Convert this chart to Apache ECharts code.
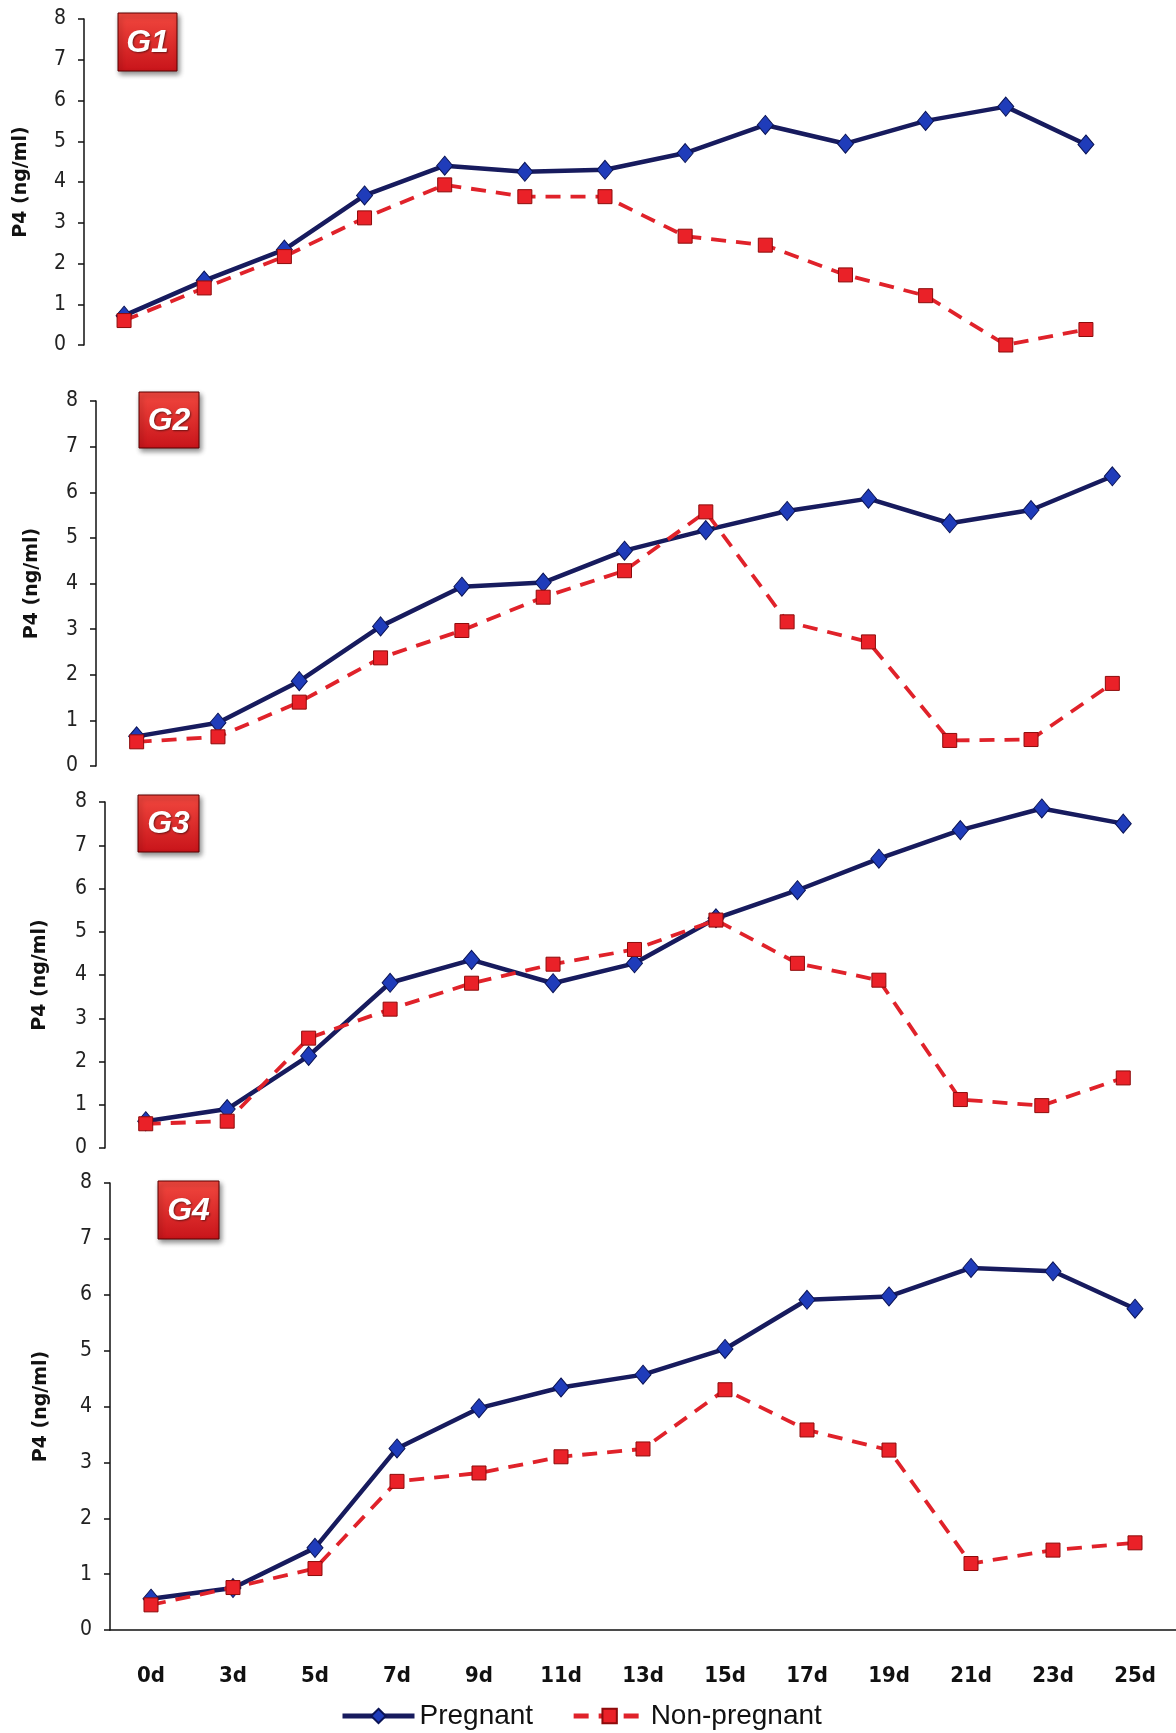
<!DOCTYPE html>
<html><head><meta charset="utf-8">
<script src="https://cdn.jsdelivr.net/npm/echarts@6/dist/echarts.min.js"></script>
<style>html,body{margin:0;padding:0;background:#fff}#c{width:1176px;height:1733px}</style>
</head><body><div id="c"></div>
<script>
// ---- data ----
const categories = ['0d','3d','5d','7d','9d','11d','13d','15d','17d','19d','21d','23d','25d'];
const yTickMin = 0, yTickMax = 8, yTickStep = 1;
const panelNames = ['G1','G2','G3','G4'];

const g1Pregnant    = [0.72, 1.58, 2.34, 3.67, 4.40, 4.25, 4.30, 4.71, 5.40, 4.94, 5.50, 5.85, 4.92];
const g1NonPregnant = [0.60, 1.40, 2.17, 3.12, 3.93, 3.64, 3.64, 2.67, 2.45, 1.72, 1.21, 0.00, 0.38];

const g2Pregnant    = [0.65, 0.95, 1.86, 3.06, 3.93, 4.02, 4.72, 5.17, 5.59, 5.86, 5.32, 5.61, 6.35];
const g2NonPregnant = [0.53, 0.64, 1.40, 2.37, 2.97, 3.70, 4.28, 5.57, 3.16, 2.72, 0.56, 0.58, 1.81];

const g3Pregnant    = [0.62, 0.90, 2.13, 3.82, 4.35, 3.81, 4.27, 5.31, 5.96, 6.69, 7.35, 7.85, 7.50];
const g3NonPregnant = [0.56, 0.62, 2.54, 3.21, 3.81, 4.25, 4.59, 5.27, 4.27, 3.88, 1.12, 0.98, 1.62];

const g4Pregnant    = [0.56, 0.75, 1.47, 3.25, 3.97, 4.34, 4.57, 5.03, 5.91, 5.97, 6.48, 6.42, 5.75];
const g4NonPregnant = [0.45, 0.76, 1.10, 2.66, 2.81, 3.10, 3.24, 4.30, 3.58, 3.22, 1.19, 1.43, 1.56];

const pregnantSets = [g1Pregnant, g2Pregnant, g3Pregnant, g4Pregnant];
const nonPregnantSets = [g1NonPregnant, g2NonPregnant, g3NonPregnant, g4NonPregnant];

// ---- layout ----
const grids = [
  {left: 84,  top: 19,   width: 1042, height: 326},
  {left: 96,  top: 401,  width: 1057, height: 365},
  {left: 105, top: 802,  width: 1059, height: 346},
  {left: 110, top: 1183, width: 1070, height: 447}
];
const nameGaps = [53, 54, 55, 59];
const boxes = [
  {x: 118, y: 13,   w: 59, h: 58},
  {x: 139, y: 392,  w: 60, h: 56},
  {x: 138, y: 795,  w: 61, h: 57},
  {x: 158, y: 1181, w: 61, h: 58}
];

const chart = echarts.init(document.getElementById('c'), null, {renderer: 'canvas'});

const xAxes = [], yAxes = [], series = [], graphics = [];
grids.forEach((g, i) => {
  const last = i === grids.length - 1;
  xAxes.push({
    type: 'category', gridIndex: i, data: categories, boundaryGap: true,
    axisLine: {show: last, lineStyle: {color: '#111', width: 1.5}},
    axisTick: {show: false},
    axisLabel: {show: last, margin: 35, color: '#111', fontSize: 22, fontWeight: 'bold',
                fontFamily: 'DejaVu Sans Condensed, DejaVu Sans'}
  });
  yAxes.push({
    type: 'value', gridIndex: i, min: yTickMin, max: yTickMax, interval: yTickStep,
    name: 'P4 (ng/ml)', nameLocation: 'middle', nameGap: nameGaps[i],
    nameTextStyle: {fontFamily: 'DejaVu Sans', fontWeight: 'bold', fontSize: 19, color: '#111'},
    axisLine: {show: true, lineStyle: {color: '#111', width: 1.5}},
    axisTick: {show: true, inside: false, length: 6, lineStyle: {color: '#111', width: 1.5}},
    splitLine: {show: false},
    axisLabel: {margin: 18, color: '#222', fontSize: 21,
                fontFamily: 'Liberation Sans Narrow, DejaVu Sans Condensed'}
  });
  series.push({
    name: 'Pregnant', type: 'line', xAxisIndex: i, yAxisIndex: i,
    data: pregnantSets[i], symbol: 'diamond', symbolSize: [16, 19],
    itemStyle: {color: '#1f3cba', borderColor: '#0b1456', borderWidth: 1},
    lineStyle: {color: '#171b5e', width: 4.5},
    z: 2
  });
  series.push({
    name: 'Non-pregnant', type: 'line', xAxisIndex: i, yAxisIndex: i,
    data: nonPregnantSets[i], symbol: 'rect', symbolSize: 14,
    itemStyle: {color: '#ea2128', borderColor: '#8d0b0b', borderWidth: 1},
    lineStyle: {color: '#e0222a', width: 3.8, type: [15, 10]},
    z: 3
  });
  const b = boxes[i];
  graphics.push({
    type: 'rect', shape: {x: b.x, y: b.y, width: b.w, height: b.h},
    style: {
      fill: new echarts.graphic.LinearGradient(0, 0, 0, 1, [
        {offset: 0, color: '#f2483f'}, {offset: 1, color: '#c8141a'}]),
      stroke: '#5a0000', lineWidth: 1,
      shadowBlur: 5, shadowColor: 'rgba(0,0,0,0.45)', shadowOffsetX: 2, shadowOffsetY: 3
    }, z: 10
  });
  graphics.push({
    type: 'text', x: b.x + b.w / 2, y: b.y + b.h / 2 + 1,
    style: {text: panelNames[i], fill: '#fff', align: 'center', verticalAlign: 'middle',
            font: 'italic bold 32px "Liberation Sans", Arial, sans-serif',
            textShadowColor: 'rgba(0,0,0,0.5)', textShadowBlur: 2, textShadowOffsetX: 1, textShadowOffsetY: 1},
    z: 11
  });
});

chart.setOption({
  animation: false,
  backgroundColor: '#ffffff',
  grid: grids.map(g => Object.assign({containLabel: false}, g)),
  xAxis: xAxes,
  yAxis: yAxes,
  legend: {
    data: [
      {name: 'Pregnant', lineStyle: {width: 5, color: '#171b5e'}},
      {name: 'Non-pregnant', lineStyle: {width: 5, color: '#e0222a'}}
    ],
    left: 335, top: 1697, itemWidth: 72, itemHeight: 18, itemGap: 38,
    textStyle: {fontSize: 28, color: '#111', fontFamily: 'Liberation Sans Narrow, Liberation Sans'}
  },
  series: series,
  graphic: graphics
});
</script>
</body></html>
